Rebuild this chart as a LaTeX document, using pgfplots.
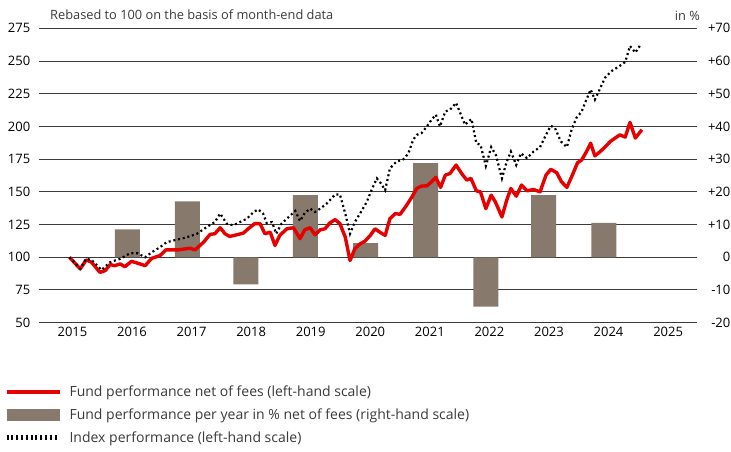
\documentclass[border=0pt]{standalone}
\usepackage{pgfplots}
\pgfplotsset{compat=1.18}
\usepackage{pgfplotstable}
\usepackage{fontspec}
\setmainfont{Open Sans}
\definecolor{ubsred}{HTML}{E60000}
\definecolor{barbrown}{HTML}{877A6C}
\definecolor{gridgray}{HTML}{3A3A3A}

\pgfplotstableread{
x y
2014.95 100
2015.13 91.1
2015.23 98
2015.32 96.2
2015.46 88.5
2015.55 89.8
2015.63 94.4
2015.71 93.6
2015.80 94.9
2015.88 92.8
2015.99 96.9
2016.10 95.4
2016.22 93.6
2016.33 99.2
2016.47 101.3
2016.57 105.7
2016.78 105.7
2016.97 106.9
2017.06 105.7
2017.20 111.5
2017.31 117.5
2017.39 118
2017.48 122.6
2017.56 118
2017.64 115.9
2017.76 117.2
2017.87 118.5
2017.95 121.8
2018.06 125.7
2018.15 125.7
2018.23 118
2018.32 119.2
2018.40 109
2018.48 116.7
2018.60 121.8
2018.71 122.6
2018.82 114.2
2018.90 121
2018.99 122.6
2019.07 117.2
2019.16 121
2019.24 121.8
2019.32 126.2
2019.41 128.8
2019.49 125.7
2019.58 115.4
2019.66 97.5
2019.74 106.5
2019.83 110.3
2019.91 112.3
2020.00 116.7
2020.08 121.8
2020.16 119.2
2020.25 116.7
2020.33 129.5
2020.42 133.4
2020.50 132.8
2020.61 139.8
2020.70 146.2
2020.78 152.6
2020.86 154.4
2020.95 154.6
2021.03 157.7
2021.10 161.1
2021.18 153.4
2021.26 162.8
2021.34 164.1
2021.44 170.5
2021.54 163.6
2021.62 159
2021.69 160.3
2021.78 150.8
2021.85 150
2021.94 137.2
2022.03 147.5
2022.10 142.3
2022.21 130.8
2022.29 143.6
2022.36 152.6
2022.45 146.7
2022.54 155.2
2022.63 150.8
2022.74 151.8
2022.85 150
2022.95 162.8
2023.03 167.2
2023.13 164.6
2023.21 157.7
2023.30 153.4
2023.38 161.5
2023.48 172.3
2023.55 174.4
2023.63 180.8
2023.70 187.2
2023.77 177.5
2023.86 180.8
2023.94 184.2
2024.03 188.5
2024.11 191.1
2024.19 193.6
2024.28 191.8
2024.36 203.1
2024.45 191.1
2024.56 197.5
}\fundtable

\pgfplotstableread{
x y
2014.95 100
2015.13 91.3
2015.23 98.8
2015.32 98
2015.49 90.3
2015.63 96.2
2015.80 98.8
2015.97 103.1
2016.09 103.1
2016.22 100
2016.33 103.8
2016.47 107.7
2016.58 111.5
2016.80 114
2016.97 116
2017.09 118
2017.25 123
2017.39 126.9
2017.48 133.4
2017.59 125.7
2017.70 124.4
2017.81 126.9
2017.93 129.5
2018.04 134.6
2018.12 136.5
2018.20 133.4
2018.26 126.2
2018.35 126.9
2018.42 118
2018.51 125.7
2018.60 129.5
2018.74 135.4
2018.82 127.7
2018.90 133.8
2018.99 137.2
2019.07 134.6
2019.16 137.2
2019.27 141.1
2019.41 148
2019.49 148
2019.58 133.4
2019.66 118
2019.74 126.9
2019.86 135.9
2019.94 142.3
2020.02 151.3
2020.11 160.3
2020.16 157.7
2020.25 151.3
2020.33 168
2020.44 173.1
2020.56 175
2020.64 179.5
2020.72 189.8
2020.78 193.6
2020.86 194.9
2020.95 200
2021.03 205.2
2021.10 209
2021.17 200
2021.26 211.5
2021.34 212.8
2021.44 218
2021.51 210.3
2021.59 201.3
2021.65 203.8
2021.70 205.7
2021.78 187.2
2021.85 185.9
2021.94 169.8
2022.03 184.2
2022.11 178
2022.21 160.3
2022.29 173.1
2022.36 180.8
2022.45 170.5
2022.53 179.5
2022.63 175.7
2022.74 180.8
2022.85 184.2
2022.95 193.6
2023.03 200.5
2023.10 198.8
2023.20 188.5
2023.30 184.2
2023.38 197.5
2023.46 206.5
2023.55 211.5
2023.61 218.5
2023.70 228.2
2023.77 220.5
2023.85 228.2
2023.94 237.2
2024.05 242.3
2024.17 245.7
2024.28 249.2
2024.36 261.5
2024.45 256.4
2024.53 262
}\indextable

\pgfplotstableread{
x y
2015.92 8.5
2016.93 17.1
2017.91 -8.3
2018.91 19.0
2019.92 4.3
2020.93 28.8
2021.94 -15.1
2022.91 19.0
2023.92 10.5
}\bartable

\begin{document}
\begin{tikzpicture}
\useasboundingbox (0pt,0pt) rectangle (731pt,452pt);
\pgfplotsset{
  common/.style={
    at={(39.3pt,129.3pt)}, anchor=south west,
    scale only axis, width=657.4pt, height=294.4pt,
    xmin=2014.443, xmax=2025.48,
    axis line style={draw=none},
    major tick length=0pt,
    tick label style={font=\fontsize{13}{15}\selectfont, inner sep=0pt},
  }
}
% right-hand scale: bars and grid
\begin{axis}[common,
  ymin=-20, ymax=70,
  ytick={-20,-10,0,10,20,30,40,50,60,70},
  yticklabels={-20,-10,0,+10,+20,+30,+40,+50,+60,+70},
  yticklabel pos=right,
  yticklabel style={anchor=east, xshift=33.8pt},
  xtick=\empty,
  ymajorgrids, grid style={gridgray, line width=1pt},
]
\addplot[ybar, bar width=0.42, fill=barbrown, draw=none] table[x=x,y=y] {\bartable};
\end{axis}
% left-hand scale: lines
\begin{axis}[common,
  ymin=50, ymax=275,
  ytick={50,75,100,125,150,175,200,225,250,275},
  yticklabels={50,75,100,125,150,175,200,225,250,275},
  yticklabel style={anchor=east, xshift=-8.8pt},
  xtick={2015,2016,2017,2018,2019,2020,2021,2022,2023,2024,2025},
  xticklabels={2015,2016,2017,2018,2019,2020,2021,2022,2023,2024,2025},
  xticklabel style={anchor=north, yshift=-4.4pt},
  legend style={at={(-0.0590,-0.208)}, anchor=north west, draw=none, fill=none,
    font=\fontsize{14}{17}\selectfont, row sep=6.5pt, inner sep=0pt,
    nodes={inner sep=2pt, text=gridgray}},
  legend cell align=left,
]
\addplot[ubsred, line width=3.4pt, line join=round,
  legend image code/.code={\path[draw=none,fill=none] (0pt,0pt) -- (61pt,0pt);\draw[ubsred, line width=4.3pt] (0pt,0pt) -- (53pt,0pt);}]
  table[x=x,y=y] {\fundtable};
\addlegendentry{Fund performance net of fees (left-hand scale)}
\addlegendimage{legend image code/.code={\path[draw=none,fill=none] (0pt,0pt) -- (61pt,0pt);\draw[barbrown, line width=11.7pt, line cap=butt, dash pattern=on 100pt off 0pt] (0pt,0pt) -- (53pt,0pt);}}
\addlegendentry{Fund performance per year in \% net of fees (right-hand scale)}
\addplot[black, line width=2.2pt, dash pattern=on 2pt off 2.8pt,
  legend image code/.code={\path[draw=none,fill=none] (0pt,0pt) -- (61pt,0pt);\draw[black, line width=4.5pt, dash pattern=on 2pt off 2.8pt] (0pt,0pt) -- (50pt,0pt);}]
  table[x=x,y=y] {\indextable};
\addlegendentry{Index performance (left-hand scale)}
\end{axis}
\node[anchor=base west, inner sep=0pt, font=\fontsize{12.8}{15}\selectfont, text=gridgray] at (50pt,432pt) {Rebased to 100 on the basis of month-end data};
\node[anchor=base east, inner sep=0pt, font=\fontsize{12.8}{15}\selectfont, text=gridgray] at (700pt,431pt) {in \%};
\end{tikzpicture}
\end{document}
